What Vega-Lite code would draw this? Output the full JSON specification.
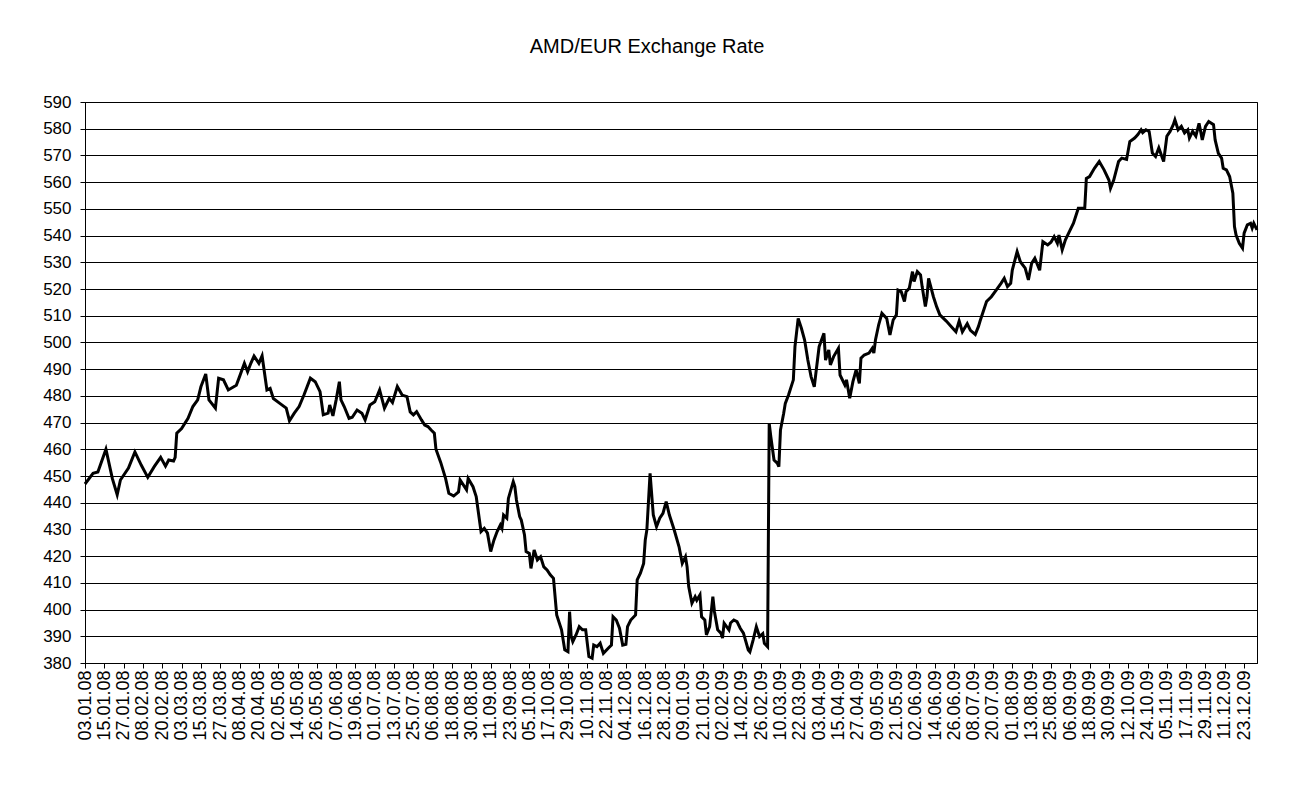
{
"$schema": "https://vega.github.io/schema/vega-lite/v6.json",
"autosize": "none",
"width": 1172,
"height": 561,
"padding": {"left": 85, "top": 102, "right": 37, "bottom": 133},
"background": "white",
"title": {"text": "AMD/EUR Exchange Rate", "fontSize": 20, "fontWeight": "normal", "font": "Liberation Sans", "color": "black", "dx": -24, "offset": 36},
"config": {"view": {"stroke": "black", "strokeWidth": 1}, "font": "Liberation Sans"},
"data": {"values": [
{"date":"2008-01-03","rate":447},{"date":"2008-01-08","rate":451},{"date":"2008-01-11","rate":451.5},{"date":"2008-01-16","rate":460},{"date":"2008-01-20","rate":449},{"date":"2008-01-23","rate":443},{"date":"2008-01-25","rate":448.5},{"date":"2008-01-30","rate":453},{"date":"2008-02-03","rate":459},{"date":"2008-02-07","rate":454},{"date":"2008-02-11","rate":449.5},{"date":"2008-02-15","rate":453.5},{"date":"2008-02-19","rate":457},{"date":"2008-02-22","rate":453.7},{"date":"2008-02-24","rate":456},{"date":"2008-02-27","rate":455.6},{"date":"2008-02-28","rate":457},{"date":"2008-02-29","rate":466},{"date":"2008-03-03","rate":467.8},{"date":"2008-03-07","rate":471.6},{"date":"2008-03-10","rate":476},{"date":"2008-03-13","rate":478.5},{"date":"2008-03-15","rate":483.4},{"date":"2008-03-18","rate":488.2},{"date":"2008-03-20","rate":478.5},{"date":"2008-03-24","rate":475.4},{"date":"2008-03-26","rate":486.6},{"date":"2008-03-29","rate":486},{"date":"2008-04-01","rate":482.2},{"date":"2008-04-06","rate":484},{"date":"2008-04-08","rate":487.2},{"date":"2008-04-11","rate":492.2},{"date":"2008-04-13","rate":489},{"date":"2008-04-15","rate":492.2},{"date":"2008-04-17","rate":494.9},{"date":"2008-04-20","rate":492.2},{"date":"2008-04-22","rate":495},{"date":"2008-04-25","rate":482.2},{"date":"2008-04-27","rate":482.8},{"date":"2008-04-29","rate":479},{"date":"2008-05-03","rate":477.2},{"date":"2008-05-07","rate":475.4},{"date":"2008-05-09","rate":470.7},{"date":"2008-05-12","rate":473.5},{"date":"2008-05-15","rate":476},{"date":"2008-05-18","rate":480.3},{"date":"2008-05-22","rate":486.6},{"date":"2008-05-25","rate":485.3},{"date":"2008-05-28","rate":481.6},{"date":"2008-05-30","rate":472.9},{"date":"2008-06-02","rate":473.5},{"date":"2008-06-03","rate":476.6},{"date":"2008-06-05","rate":472.5},{"date":"2008-06-07","rate":478.5},{"date":"2008-06-09","rate":485.3},{"date":"2008-06-10","rate":478.5},{"date":"2008-06-12","rate":476},{"date":"2008-06-15","rate":471.6},{"date":"2008-06-17","rate":472},{"date":"2008-06-20","rate":474.7},{"date":"2008-06-23","rate":473.5},{"date":"2008-06-25","rate":471},{"date":"2008-06-28","rate":476.6},{"date":"2008-07-01","rate":477.8},{"date":"2008-07-04","rate":482.2},{"date":"2008-07-07","rate":475.4},{"date":"2008-07-10","rate":479.1},{"date":"2008-07-12","rate":477.5},{"date":"2008-07-15","rate":483.5},{"date":"2008-07-18","rate":480.3},{"date":"2008-07-21","rate":479.7},{"date":"2008-07-23","rate":474},{"date":"2008-07-25","rate":472.9},{"date":"2008-07-27","rate":474.1},{"date":"2008-07-30","rate":471},{"date":"2008-08-01","rate":469.1},{"date":"2008-08-03","rate":468.5},{"date":"2008-08-05","rate":467.2},{"date":"2008-08-07","rate":466},{"date":"2008-08-08","rate":460},{"date":"2008-08-11","rate":455},{"date":"2008-08-14","rate":449},{"date":"2008-08-16","rate":443.5},{"date":"2008-08-19","rate":442.5},{"date":"2008-08-22","rate":444},{"date":"2008-08-23","rate":448.5},{"date":"2008-08-27","rate":444.8},{"date":"2008-08-28","rate":449.1},{"date":"2008-08-31","rate":446},{"date":"2008-09-02","rate":442.3},{"date":"2008-09-03","rate":437.9},{"date":"2008-09-05","rate":429.2},{"date":"2008-09-07","rate":430.4},{"date":"2008-09-09","rate":428.6},{"date":"2008-09-11","rate":421.7},{"date":"2008-09-13","rate":426},{"date":"2008-09-15","rate":429.2},{"date":"2008-09-17","rate":431.7},{"date":"2008-09-18","rate":430.4},{"date":"2008-09-19","rate":435.4},{"date":"2008-09-21","rate":434.2},{"date":"2008-09-22","rate":441.6},{"date":"2008-09-25","rate":447.9},{"date":"2008-09-26","rate":446},{"date":"2008-09-27","rate":441},{"date":"2008-09-29","rate":434.8},{"date":"2008-09-30","rate":433.5},{"date":"2008-10-02","rate":427.9},{"date":"2008-10-03","rate":421.7},{"date":"2008-10-05","rate":421},{"date":"2008-10-06","rate":415.4},{"date":"2008-10-08","rate":422.3},{"date":"2008-10-10","rate":418.6},{"date":"2008-10-12","rate":419.8},{"date":"2008-10-14","rate":416},{"date":"2008-10-16","rate":414.8},{"date":"2008-10-18","rate":413},{"date":"2008-10-20","rate":411.7},{"date":"2008-10-22","rate":398},{"date":"2008-10-25","rate":392.4},{"date":"2008-10-27","rate":384.9},{"date":"2008-10-29","rate":384.2},{"date":"2008-10-30","rate":399.2},{"date":"2008-10-31","rate":389.9},{"date":"2008-11-01","rate":388},{"date":"2008-11-03","rate":390.5},{"date":"2008-11-05","rate":393.6},{"date":"2008-11-07","rate":392.4},{"date":"2008-11-09","rate":392.4},{"date":"2008-11-11","rate":382.4},{"date":"2008-11-13","rate":381.8},{"date":"2008-11-14","rate":386.7},{"date":"2008-11-16","rate":386.1},{"date":"2008-11-18","rate":387.4},{"date":"2008-11-20","rate":383.6},{"date":"2008-11-23","rate":385.5},{"date":"2008-11-25","rate":386.7},{"date":"2008-11-26","rate":397.3},{"date":"2008-11-28","rate":396.1},{"date":"2008-11-30","rate":393},{"date":"2008-12-02","rate":386.7},{"date":"2008-12-04","rate":387},{"date":"2008-12-05","rate":393.6},{"date":"2008-12-07","rate":396.1},{"date":"2008-12-10","rate":398},{"date":"2008-12-11","rate":411.1},{"date":"2008-12-13","rate":413.6},{"date":"2008-12-15","rate":417.3},{"date":"2008-12-16","rate":426},{"date":"2008-12-17","rate":429.8},{"date":"2008-12-19","rate":451},{"date":"2008-12-21","rate":435.4},{"date":"2008-12-23","rate":431},{"date":"2008-12-25","rate":434.2},{"date":"2008-12-27","rate":436},{"date":"2008-12-29","rate":440.4},{"date":"2008-12-31","rate":435.4},
{"date":"2009-01-03","rate":429.8},{"date":"2009-01-06","rate":423.5},{"date":"2009-01-08","rate":417.3},{"date":"2009-01-10","rate":419.8},{"date":"2009-01-11","rate":416},{"date":"2009-01-12","rate":408.6},{"date":"2009-01-14","rate":402.4},{"date":"2009-01-16","rate":404.8},{"date":"2009-01-17","rate":403.5},{"date":"2009-01-19","rate":405.5},{"date":"2009-01-20","rate":397.3},{"date":"2009-01-22","rate":396.1},{"date":"2009-01-23","rate":390.5},{"date":"2009-01-25","rate":393.6},{"date":"2009-01-27","rate":404.8},{"date":"2009-01-28","rate":399.2},{"date":"2009-01-30","rate":392.4},{"date":"2009-02-01","rate":391.2},{"date":"2009-02-02","rate":389.3},{"date":"2009-02-03","rate":394.9},{"date":"2009-02-06","rate":392.4},{"date":"2009-02-07","rate":395},{"date":"2009-02-09","rate":396.1},{"date":"2009-02-11","rate":395.5},{"date":"2009-02-13","rate":393},{"date":"2009-02-15","rate":391.2},{"date":"2009-02-18","rate":384.9},{"date":"2009-02-19","rate":384.2},{"date":"2009-02-21","rate":388.6},{"date":"2009-02-23","rate":393.6},{"date":"2009-02-25","rate":389.9},{"date":"2009-02-27","rate":391},{"date":"2009-02-28","rate":387.4},{"date":"2009-03-02","rate":386.1},{"date":"2009-03-03","rate":469.7},{"date":"2009-03-04","rate":464.7},{"date":"2009-03-06","rate":456},{"date":"2009-03-08","rate":454.8},{"date":"2009-03-09","rate":453.5},{"date":"2009-03-10","rate":467.2},{"date":"2009-03-12","rate":473.5},{"date":"2009-03-13","rate":477.2},{"date":"2009-03-15","rate":480.3},{"date":"2009-03-18","rate":486},{"date":"2009-03-19","rate":498.4},{"date":"2009-03-21","rate":509},{"date":"2009-03-23","rate":505.3},{"date":"2009-03-25","rate":500.9},{"date":"2009-03-26","rate":497.2},{"date":"2009-03-27","rate":493.4},{"date":"2009-03-29","rate":487.2},{"date":"2009-03-31","rate":483.4},{"date":"2009-04-01","rate":488.5},{"date":"2009-04-03","rate":498.4},{"date":"2009-04-06","rate":503.4},{"date":"2009-04-07","rate":493.4},{"date":"2009-04-09","rate":497.2},{"date":"2009-04-10","rate":491.6},{"date":"2009-04-12","rate":494.7},{"date":"2009-04-15","rate":497.8},{"date":"2009-04-16","rate":487.8},{"date":"2009-04-19","rate":484.1},{"date":"2009-04-20","rate":486},{"date":"2009-04-22","rate":479.1},{"date":"2009-04-24","rate":485.3},{"date":"2009-04-26","rate":489.7},{"date":"2009-04-28","rate":484.7},{"date":"2009-04-29","rate":494.1},{"date":"2009-05-01","rate":495.3},{"date":"2009-05-04","rate":496},{"date":"2009-05-06","rate":497.8},{"date":"2009-05-07","rate":496},{"date":"2009-05-08","rate":500.9},{"date":"2009-05-10","rate":506.6},{"date":"2009-05-12","rate":510.9},{"date":"2009-05-15","rate":509},{"date":"2009-05-17","rate":502.8},{"date":"2009-05-19","rate":508.4},{"date":"2009-05-21","rate":510.3},{"date":"2009-05-22","rate":519.6},{"date":"2009-05-24","rate":519},{"date":"2009-05-26","rate":515.3},{"date":"2009-05-27","rate":519},{"date":"2009-05-29","rate":520.3},{"date":"2009-05-31","rate":526.5},{"date":"2009-06-01","rate":522.8},{"date":"2009-06-03","rate":526.5},{"date":"2009-06-05","rate":525.3},{"date":"2009-06-06","rate":520.9},{"date":"2009-06-08","rate":513.4},{"date":"2009-06-09","rate":517.1},{"date":"2009-06-10","rate":524},{"date":"2009-06-13","rate":517.1},{"date":"2009-06-15","rate":513.4},{"date":"2009-06-17","rate":510.3},{"date":"2009-06-21","rate":508},{"date":"2009-06-24","rate":506},{"date":"2009-06-27","rate":504},{"date":"2009-06-29","rate":508},{"date":"2009-07-01","rate":504},{"date":"2009-07-04","rate":507},{"date":"2009-07-06","rate":504.5},{"date":"2009-07-09","rate":503},{"date":"2009-07-11","rate":506},{"date":"2009-07-12","rate":508},{"date":"2009-07-16","rate":515.3},{"date":"2009-07-19","rate":517.1},{"date":"2009-07-22","rate":519.6},{"date":"2009-07-25","rate":522.1},{"date":"2009-07-27","rate":524},{"date":"2009-07-29","rate":520.9},{"date":"2009-07-31","rate":522.1},{"date":"2009-08-01","rate":527.1},{"date":"2009-08-04","rate":534},{"date":"2009-08-06","rate":530.2},{"date":"2009-08-09","rate":527.8},{"date":"2009-08-11","rate":523.4},{"date":"2009-08-13","rate":529.6},{"date":"2009-08-15","rate":531.5},{"date":"2009-08-18","rate":527},{"date":"2009-08-20","rate":537.7},{"date":"2009-08-23","rate":536.5},{"date":"2009-08-25","rate":537.5},{"date":"2009-08-27","rate":539.6},{"date":"2009-08-29","rate":537.1},{"date":"2009-08-30","rate":540.2},{"date":"2009-09-01","rate":534.6},{"date":"2009-09-03","rate":538.4},{"date":"2009-09-05","rate":540.9},{"date":"2009-09-08","rate":544.6},{"date":"2009-09-11","rate":550.2},{"date":"2009-09-15","rate":550.2},{"date":"2009-09-16","rate":561.4},{"date":"2009-09-18","rate":562.1},{"date":"2009-09-21","rate":565.2},{"date":"2009-09-24","rate":567.7},{"date":"2009-09-27","rate":564.6},{"date":"2009-09-30","rate":560.8},{"date":"2009-10-01","rate":557.7},{"date":"2009-10-03","rate":560.8},{"date":"2009-10-06","rate":567.7},{"date":"2009-10-08","rate":569},{"date":"2009-10-11","rate":568.5},{"date":"2009-10-13","rate":575.2},{"date":"2009-10-16","rate":576.5},{"date":"2009-10-18","rate":577.8},{"date":"2009-10-20","rate":579.6},{"date":"2009-10-21","rate":578.5},{"date":"2009-10-23","rate":579.6},{"date":"2009-10-25","rate":579},{"date":"2009-10-27","rate":570.9},{"date":"2009-10-29","rate":569.6},{"date":"2009-10-31","rate":572.8},{"date":"2009-11-03","rate":567.7},{"date":"2009-11-05","rate":577.2},{"date":"2009-11-07","rate":579},{"date":"2009-11-09","rate":581.5},{"date":"2009-11-10","rate":583.3},{"date":"2009-11-12","rate":579.6},{"date":"2009-11-14","rate":580.9},{"date":"2009-11-16","rate":578.4},{"date":"2009-11-18","rate":579.6},{"date":"2009-11-19","rate":576.5},{"date":"2009-11-21","rate":579},{"date":"2009-11-23","rate":577.2},{"date":"2009-11-25","rate":582},{"date":"2009-11-26","rate":579},{"date":"2009-11-27","rate":575.8},{"date":"2009-11-29","rate":580.9},{"date":"2009-12-01","rate":582.7},{"date":"2009-12-04","rate":581.5},{"date":"2009-12-05","rate":575.8},{"date":"2009-12-07","rate":570.8},{"date":"2009-12-09","rate":569},{"date":"2009-12-10","rate":565.2},{"date":"2009-12-12","rate":564.6},{"date":"2009-12-14","rate":562.1},{"date":"2009-12-16","rate":555.9},{"date":"2009-12-17","rate":543.4},{"date":"2009-12-18","rate":540.2},{"date":"2009-12-20","rate":537.1},{"date":"2009-12-22","rate":535.3},{"date":"2009-12-23","rate":540.9},{"date":"2009-12-25","rate":544},{"date":"2009-12-27","rate":544.6},{"date":"2009-12-28","rate":542.8},{"date":"2009-12-29","rate":544.6},{"date":"2009-12-31","rate":542.1}
]},
"mark": {"type": "line", "color": "black", "strokeWidth": 3},
"encoding": {
"x": {"field": "date", "type": "temporal",
 "scale": {"type": "utc", "domain": [{"year":2008,"month":1,"date":3,"utc":true},{"year":2009,"month":12,"date":31,"utc":true}]},
 "axis": {"title": null, "format": "%d.%m.%y", "labelAngle": -90, "labelFontSize": 18, "labelColor": "black", "labelFont": "Liberation Sans", "tickColor": "black", "tickSize": 5, "domainColor": "black", "grid": false, "labelPadding": 2, "labelOverlap": false, "labelFlush": false, "labelBound": false,
 "values": [
 {"year":2008,"month":1,"date":3,"utc":true},{"year":2008,"month":1,"date":15,"utc":true},{"year":2008,"month":1,"date":27,"utc":true},{"year":2008,"month":2,"date":8,"utc":true},{"year":2008,"month":2,"date":20,"utc":true},{"year":2008,"month":3,"date":3,"utc":true},{"year":2008,"month":3,"date":15,"utc":true},{"year":2008,"month":3,"date":27,"utc":true},{"year":2008,"month":4,"date":8,"utc":true},{"year":2008,"month":4,"date":20,"utc":true},{"year":2008,"month":5,"date":2,"utc":true},{"year":2008,"month":5,"date":14,"utc":true},{"year":2008,"month":5,"date":26,"utc":true},{"year":2008,"month":6,"date":7,"utc":true},{"year":2008,"month":6,"date":19,"utc":true},{"year":2008,"month":7,"date":1,"utc":true},{"year":2008,"month":7,"date":13,"utc":true},{"year":2008,"month":7,"date":25,"utc":true},{"year":2008,"month":8,"date":6,"utc":true},{"year":2008,"month":8,"date":18,"utc":true},{"year":2008,"month":8,"date":30,"utc":true},{"year":2008,"month":9,"date":11,"utc":true},{"year":2008,"month":9,"date":23,"utc":true},{"year":2008,"month":10,"date":5,"utc":true},{"year":2008,"month":10,"date":17,"utc":true},{"year":2008,"month":10,"date":29,"utc":true},{"year":2008,"month":11,"date":10,"utc":true},{"year":2008,"month":11,"date":22,"utc":true},{"year":2008,"month":12,"date":4,"utc":true},{"year":2008,"month":12,"date":16,"utc":true},{"year":2008,"month":12,"date":28,"utc":true},
 {"year":2009,"month":1,"date":9,"utc":true},{"year":2009,"month":1,"date":21,"utc":true},{"year":2009,"month":2,"date":2,"utc":true},{"year":2009,"month":2,"date":14,"utc":true},{"year":2009,"month":2,"date":26,"utc":true},{"year":2009,"month":3,"date":10,"utc":true},{"year":2009,"month":3,"date":22,"utc":true},{"year":2009,"month":4,"date":3,"utc":true},{"year":2009,"month":4,"date":15,"utc":true},{"year":2009,"month":4,"date":27,"utc":true},{"year":2009,"month":5,"date":9,"utc":true},{"year":2009,"month":5,"date":21,"utc":true},{"year":2009,"month":6,"date":2,"utc":true},{"year":2009,"month":6,"date":14,"utc":true},{"year":2009,"month":6,"date":26,"utc":true},{"year":2009,"month":7,"date":8,"utc":true},{"year":2009,"month":7,"date":20,"utc":true},{"year":2009,"month":8,"date":1,"utc":true},{"year":2009,"month":8,"date":13,"utc":true},{"year":2009,"month":8,"date":25,"utc":true},{"year":2009,"month":9,"date":6,"utc":true},{"year":2009,"month":9,"date":18,"utc":true},{"year":2009,"month":9,"date":30,"utc":true},{"year":2009,"month":10,"date":12,"utc":true},{"year":2009,"month":10,"date":24,"utc":true},{"year":2009,"month":11,"date":5,"utc":true},{"year":2009,"month":11,"date":17,"utc":true},{"year":2009,"month":11,"date":29,"utc":true},{"year":2009,"month":12,"date":11,"utc":true},{"year":2009,"month":12,"date":23,"utc":true}
 ]}},
"y": {"field": "rate", "type": "quantitative",
 "scale": {"domain": [380, 590], "nice": false, "zero": false},
 "axis": {"title": null, "values": [380,390,400,410,420,430,440,450,460,470,480,490,500,510,520,530,540,550,560,570,580,590], "grid": true, "gridColor": "black", "gridOpacity": 1, "gridWidth": 1, "labelFontSize": 17, "labelColor": "black", "labelFont": "Liberation Sans", "tickColor": "black", "tickSize": 5, "domainColor": "black", "labelPadding": 9}}
}
}
